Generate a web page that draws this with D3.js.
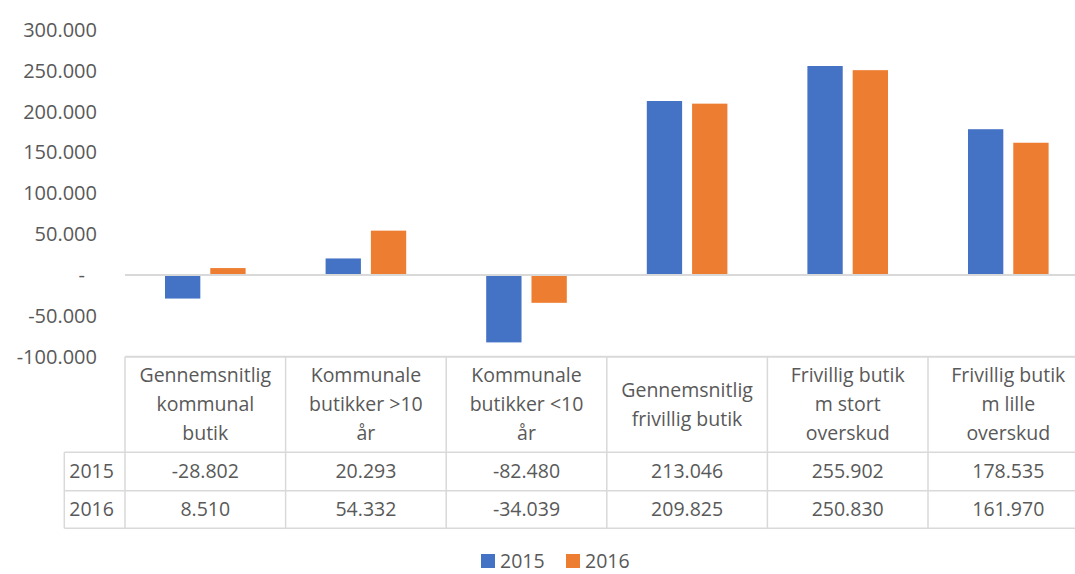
<!DOCTYPE html>
<html><head><meta charset="utf-8">
<script src="https://cdn.jsdelivr.net/npm/d3@7"></script>
<style>
html,body{margin:0;padding:0;background:#fff;}
svg{display:block;font-family:"Open Sans",sans-serif;}
</style></head>
<body><div id="chart"></div>
<script>
const categories = [
  "Gennemsnitlig\nkommunal\nbutik",
  "Kommunale\nbutikker >10\når",
  "Kommunale\nbutikker <10\når",
  "Gennemsnitlig\nfrivillig butik",
  "Frivillig butik\nm stort\noverskud",
  "Frivillig butik\nm lille\noverskud"
];
const seriesNames = ["2015", "2016"];
const values2015 = [-28802, 20293, -82480, 213046, 255902, 178535];
const values2016 = [8510, 54332, -34039, 209825, 250830, 161970];
const yTicks = [-100000, -50000, 0, 50000, 100000, 150000, 200000, 250000, 300000];
const colors = ["#4472C4", "#ED7D31"];

const W = 1075, H = 574;
const textColor = "#595959", lineColor = "#D9D9D9";
const plotLeft = 125, colW = 160.6, plotRight = plotLeft + colW * 6;
const yTop = 30, yBottom = 356.7;
const row1Bottom = 452.3, row2Bottom = 490.7, row3Bottom = 528.3, tableLeft = 64.3;

const loc = d3.formatLocale({decimal: ",", thousands: ".", grouping: [3], currency: ["", ""], minus: "-"});
const fmt = loc.format(",.0f");

const series = [values2015, values2016];

const svg = d3.select("#chart").append("svg").attr("width", W).attr("height", H);

const x = d3.scaleBand().domain(categories).range([plotLeft, plotRight]).padding(0);
const xs = d3.scaleBand().domain(seriesNames).range([40, colW - 40]).paddingInner(0.22);
const y = d3.scaleLinear().domain([-100000, 300000]).range([yBottom, yTop]);

// y axis labels
const yAxis = d3.axisLeft(y).tickValues(yTicks).tickSize(0).tickPadding(28)
  .tickFormat(d => d === 0 ? "-" : fmt(d));
const ga = svg.append("g").attr("transform", `translate(${plotLeft},0)`).call(yAxis);
ga.select(".domain").remove();
ga.selectAll("text").attr("fill", textColor).style("font-size", "20px")
  .style("font-family", "'Open Sans',sans-serif")
  .attr("dx", d => d === 0 ? -12 : 0);

// bars
seriesNames.forEach((s, si) => {
  svg.append("g").selectAll("rect").data(series[si]).join("rect")
    .attr("x", (d, i) => x(categories[i]) + xs(s))
    .attr("width", xs.bandwidth())
    .attr("y", d => y(Math.max(0, d)))
    .attr("height", d => Math.abs(y(d) - y(0)))
    .attr("fill", colors[si]);
});

// zero line
svg.append("line").attr("x1", plotLeft).attr("x2", plotRight)
  .attr("y1", y(0)).attr("y2", y(0)).attr("stroke", lineColor).attr("stroke-width", 2);

// table
const tg = svg.append("g").attr("stroke", lineColor).attr("stroke-width", 1.5);
tg.append("line").attr("x1", plotLeft).attr("x2", plotRight).attr("y1", yBottom).attr("y2", yBottom).attr("stroke-width", 2);
[row1Bottom, row2Bottom, row3Bottom].forEach(yy => {
  tg.append("line").attr("x1", tableLeft).attr("x2", plotRight).attr("y1", yy).attr("y2", yy);
});
tg.append("line").attr("x1", tableLeft).attr("x2", tableLeft).attr("y1", row1Bottom).attr("y2", row3Bottom);
categories.concat(["__end"]).forEach((c, i) => {
  const xx = plotLeft + i * colW;
  tg.append("line").attr("x1", xx).attr("x2", xx).attr("y1", yBottom).attr("y2", row3Bottom);
});

// header text
const hdr = svg.append("g").attr("fill", textColor).style("font-size", "19.5px").attr("text-anchor", "middle");
categories.forEach(c => {
  const lines = c.split("\n");
  const cx = x(c) + x.bandwidth() / 2;
  const cy = (yBottom + row1Bottom) / 2;
  const lh = 29;
  lines.forEach((ln, li) => {
    hdr.append("text").attr("x", cx)
      .attr("y", cy + (li - (lines.length - 1) / 2) * lh)
      .attr("dy", "0.35em").text(ln);
  });
});

// value rows
const rowCenters = [(row1Bottom + row2Bottom) / 2, (row2Bottom + row3Bottom) / 2];
seriesNames.forEach((s, si) => {
  const g = svg.append("g").attr("fill", textColor).style("font-size", "19.5px");
  g.append("text").attr("x", tableLeft + 5).attr("y", rowCenters[si]).attr("dy", "0.35em").text(s);
  g.selectAll("text.v").data(series[si]).join("text").attr("class", "v")
    .attr("text-anchor", "middle")
    .attr("x", (d, i) => x(categories[i]) + x.bandwidth() / 2)
    .attr("y", rowCenters[si]).attr("dy", "0.35em").text(d => fmt(d));
});

// legend
const lg = svg.append("g").style("font-size", "19.5px");
const legX = [481, 566];
seriesNames.forEach((s, si) => {
  lg.append("rect").attr("x", legX[si]).attr("y", 554).attr("width", 14).attr("height", 14).attr("fill", colors[si]);
  lg.append("text").attr("x", legX[si] + 19).attr("y", 561).attr("dy", "0.35em").attr("fill", textColor).text(s);
});
</script></body></html>
